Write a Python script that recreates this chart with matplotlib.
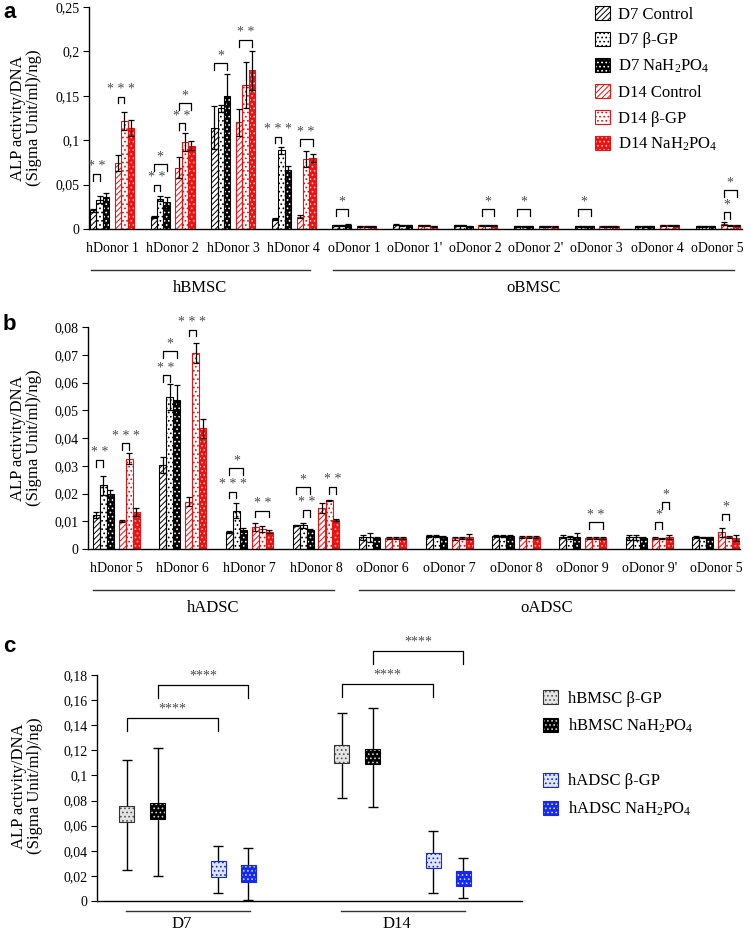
import matplotlib
matplotlib.use("Agg")
import matplotlib.pyplot as plt
import numpy as np
from matplotlib.patches import Patch
from matplotlib.legend_handler import HandlerTuple
from matplotlib.ticker import FuncFormatter

plt.rcParams["font.family"] = ["Liberation Serif", "DejaVu Serif"]
plt.rcParams["mathtext.fontset"] = "custom"
plt.rcParams["mathtext.rm"] = "Liberation Serif"
plt.rcParams["mathtext.it"] = "Liberation Serif:italic"
plt.rcParams["hatch.linewidth"] = 0.7

# ---------------- data ----------------
series_labels = ["D7 Control", "D7 β-GP", "D7 NaH$_2$PO$_4$",
                 "D14 Control", "D14 β-GP", "D14 NaH$_2$PO$_4$"]

# panel a : BMSC
a_cats = ["hDonor 1", "hDonor 2", "hDonor 3", "hDonor 4", "oDonor 1", "oDonor 1'",
          "oDonor 2", "oDonor 2'", "oDonor 3", "oDonor 4", "oDonor 5"]
a_d7_ctrl = [0.021, 0.0135, 0.114, 0.0115, 0.004, 0.005, 0.004, 0.003, 0.003, 0.003, 0.003]
a_d7_bgp = [0.033, 0.034, 0.136, 0.0886, 0.004, 0.004, 0.004, 0.003, 0.003, 0.003, 0.003]
a_d7_nah = [0.036, 0.030, 0.150, 0.067, 0.005, 0.004, 0.003, 0.003, 0.003, 0.003, 0.003]
a_d14_ctrl = [0.074, 0.069, 0.120, 0.014, 0.003, 0.004, 0.004, 0.003, 0.003, 0.004, 0.006]
a_d14_bgp = [0.122, 0.098, 0.162, 0.079, 0.003, 0.004, 0.004, 0.003, 0.003, 0.004, 0.004]
a_d14_nah = [0.114, 0.094, 0.179, 0.080, 0.003, 0.003, 0.004, 0.003, 0.003, 0.004, 0.004]
a_d7_ctrl_err = [0.002, 0.001, 0.024, 0.001, 0.0005, 0.0005, 0.0005, 0.0005, 0.0005, 0.0005, 0.0005]
a_d7_bgp_err = [0.004, 0.003, 0.004, 0.004, 0.0005, 0.0005, 0.0005, 0.0005, 0.0005, 0.0005, 0.0005]
a_d7_nah_err = [0.004, 0.006, 0.025, 0.004, 0.0005, 0.0005, 0.0005, 0.0005, 0.0005, 0.0005, 0.0005]
a_d14_ctrl_err = [0.009, 0.012, 0.015, 0.0015, 0.0005, 0.0005, 0.0005, 0.0005, 0.0005, 0.0005, 0.002]
a_d14_bgp_err = [0.010, 0.010, 0.026, 0.009, 0.0005, 0.0005, 0.0005, 0.0005, 0.0005, 0.0005, 0.0008]
a_d14_nah_err = [0.009, 0.005, 0.022, 0.004, 0.0005, 0.0005, 0.0005, 0.0005, 0.0005, 0.0005, 0.0008]
# (category, bar i, bar j, bracket height, label)
a_sig = [(0, 0, 1, 0.062, "* *"), (0, 3, 4, 0.149, "* * *"),
         (1, 0, 1, 0.050, "* *"), (1, 0, 2, 0.073, "*"), (1, 3, 4, 0.119, "* *"), (1, 3, 5, 0.142, "*"),
         (2, 0, 2, 0.187, "*"), (2, 3, 5, 0.213, "* *"),
         (3, 0, 1, 0.104, "* * *"), (3, 3, 5, 0.101, "* *"),
         (4, 0, 2, 0.0225, "*"), (6, 3, 5, 0.022, "*"), (7, 0, 2, 0.022, "*"), (8, 0, 2, 0.022, "*"),
         (10, 3, 4, 0.019, "*"), (10, 3, 5, 0.044, "*")]
a_groups = [("hBMSC", 0, 3), ("oBMSC", 4, 10)]

# panel b : ADSC
b_cats = ["hDonor 5", "hDonor 6", "hDonor 7", "hDonor 8", "oDonor 6", "oDonor 7",
          "oDonor 8", "oDonor 9", "oDonor 9'", "oDonor 5"]
b_d7_ctrl = [0.0123, 0.0303, 0.0061, 0.0085, 0.0042, 0.0047, 0.0048, 0.0045, 0.0042, 0.0043]
b_d7_bgp = [0.0229, 0.0548, 0.0138, 0.0085, 0.0042, 0.0047, 0.0048, 0.0042, 0.0042, 0.0042]
b_d7_nah = [0.0198, 0.0537, 0.0069, 0.0069, 0.0040, 0.0045, 0.0046, 0.0045, 0.0040, 0.0042]
b_d14_ctrl = [0.0101, 0.0171, 0.0079, 0.0147, 0.0040, 0.0038, 0.0044, 0.0040, 0.0040, 0.0060]
b_d14_bgp = [0.0325, 0.0707, 0.0072, 0.0175, 0.0040, 0.0040, 0.0044, 0.0040, 0.0038, 0.0043]
b_d14_nah = [0.0133, 0.0435, 0.0063, 0.0105, 0.0040, 0.0045, 0.0044, 0.0040, 0.0043, 0.0040]
b_d7_ctrl_err = [0.001, 0.003, 0.0003, 0.0003, 0.0008, 0.0003, 0.0003, 0.0005, 0.001, 0.0003]
b_d7_bgp_err = [0.0033, 0.0048, 0.0027, 0.0008, 0.0015, 0.0003, 0.0003, 0.0005, 0.0008, 0.0003]
b_d7_nah_err = [0.0015, 0.0055, 0.0008, 0.0003, 0.0003, 0.0003, 0.0003, 0.0012, 0.0003, 0.0003]
b_d14_ctrl_err = [0.0005, 0.0017, 0.0013, 0.0018, 0.0003, 0.0005, 0.0003, 0.0003, 0.0005, 0.0015]
b_d14_bgp_err = [0.002, 0.0037, 0.001, 0.0003, 0.0003, 0.0003, 0.0003, 0.0003, 0.0003, 0.0005]
b_d14_nah_err = [0.0015, 0.0035, 0.0005, 0.0003, 0.0003, 0.0008, 0.0003, 0.0003, 0.0008, 0.001]
b_sig = [(0, 0, 1, 0.0321, "* *"), (0, 3, 4, 0.0381, "* * *"),
         (1, 0, 1, 0.0626, "* *"), (1, 0, 2, 0.0714, "*"), (1, 3, 4, 0.0790, "* * *"),
         (2, 0, 1, 0.0207, "* * *"), (2, 0, 2, 0.0291, "*"), (2, 3, 5, 0.0138, "* *"),
         (3, 0, 2, 0.0223, "*"), (3, 1, 2, 0.0141, "* *"), (3, 4, 5, 0.0223, "* *"),
         (7, 3, 5, 0.0096, "* *"), (8, 3, 4, 0.0096, "*"), (8, 4, 5, 0.0168, "*"),
         (9, 3, 4, 0.0127, "*")]
b_groups = [("hADSC", 0, 3), ("oADSC", 4, 9)]

# panel c : human donors pooled (box = inner range, whiskers = min/max)
c_groups = ["D7", "D14"]
c_labels = ["hBMSC β-GP", "hBMSC NaH$_2$PO$_4$", "hADSC β-GP", "hADSC NaH$_2$PO$_4$"]
c_box_low = np.array([[0.063, 0.110], [0.065, 0.109], [0.019, 0.026], [0.015, 0.012]])
c_box_high = np.array([[0.076, 0.124], [0.078, 0.121], [0.032, 0.038], [0.029, 0.024]])
c_whisk_low = np.array([[0.025, 0.082], [0.020, 0.075], [0.006, 0.006], [0.0005, 0.0026]])
c_whisk_high = np.array([[0.112, 0.150], [0.122, 0.154], [0.044, 0.056], [0.042, 0.034]])
# (group, series i, series j, bracket height)
c_sig = [(0, 0, 2, 0.1457), (0, 1, 3, 0.172), (1, 0, 2, 0.1726), (1, 1, 3, 0.199)]

# ---------------- styles ----------------
RED = "#f01010"
BLUE = "#1428f0"
STYLES = [
    dict(face="white", hatch="//////", hc="black", ec="black"),
    dict(face="white", hatch="....", hc="black", ec="black"),
    dict(face="black", hatch="....", hc="white", ec="black"),
    dict(face="white", hatch="//////", hc=RED, ec=RED),
    dict(face="white", hatch="....", hc=RED, ec=RED),
    dict(face=RED, hatch="....", hc="#ffc0c0", ec=RED),
]
C_STYLES = [
    dict(face="#e4e4e4", hatch="....", hc="#555555", ec="#333333"),
    dict(face="black", hatch="....", hc="#d0d0d0", ec="black"),
    dict(face="#e0e6ff", hatch="....", hc=BLUE, ec=BLUE),
    dict(face=BLUE, hatch="....", hc="#c8d0ff", ec=BLUE),
]


def draw_bar(ax, x, h, w, st, bottom=0, z=2):
    ax.bar(x, h, w, bottom=bottom, color=st["face"], edgecolor=st["hc"],
           hatch=st["hatch"], linewidth=0, zorder=z)
    ax.bar(x, h, w, bottom=bottom, fill=False, edgecolor=st["ec"],
           linewidth=0.8, zorder=z + 0.1)


def handle(st):
    return (Patch(facecolor=st["face"], edgecolor=st["hc"], hatch=st["hatch"], linewidth=0),
            Patch(fill=False, edgecolor=st["ec"], linewidth=0.8))


def draw_sig(ax, x1, x2, y, leg, label, fs=10, dy=0.5):
    ax.plot([x1, x1, x2, x2], [y - leg, y, y, y - leg], color="black", lw=0.9,
            clip_on=False, zorder=5)
    ax.annotate(label, ((x1 + x2) / 2, y), xytext=(0, dy), textcoords="offset points",
                ha="center", va="bottom", fontsize=fs, color="#4a4a4a",
                annotation_clip=False)


fmt = FuncFormatter(lambda v, p: ("%g" % round(v, 4)).replace(".", ","))


def style_axis(ax, ylim, step):
    ax.set_ylim(*ylim)
    ax.set_yticks(np.arange(0, ylim[1] + step / 2, step))
    ax.yaxis.set_major_formatter(fmt)
    ax.spines[["top", "right"]].set_visible(False)
    for s in ("left", "bottom"):
        ax.spines[s].set_linewidth(1.0)
    ax.tick_params(axis="y", direction="out", length=4, width=0.8, labelsize=10, pad=3)
    ax.tick_params(axis="x", length=0, labelsize=10, pad=9)


def bar_panel(ax, cats, series, errs, offsets, width, ylim, step, sig, groups):
    x = np.arange(len(cats))
    for k, (vals, err) in enumerate(zip(series, errs)):
        xs = x + offsets[k]
        draw_bar(ax, xs, vals, width, STYLES[k])
        ax.errorbar(xs, vals, yerr=err, fmt="none", ecolor="black", elinewidth=0.9,
                    capsize=2.5, capthick=0.9, zorder=4)
    ax.set_xticks(x)
    ax.set_xticklabels(cats)
    style_axis(ax, ylim, step)
    leg = ylim[1] * 0.03
    for c, i, j, y, lab in sig:
        draw_sig(ax, c + offsets[i], c + offsets[j], y, leg, lab)
    trans = ax.get_xaxis_transform()
    for name, first, last in groups:
        x0, x1 = first - 0.35, last + 0.27
        ax.plot([x0, x1], [-0.185, -0.185], transform=trans, color="#333333", lw=1.0,
                clip_on=False)
        ax.text((x0 + x1) / 2, -0.265, name, transform=trans, ha="center", va="center",
                fontsize=12)


W, H = 750, 933
fig = plt.figure(figsize=(7.5, 9.33), dpi=100)


def px_axes(left, top, right, bottom):
    return fig.add_axes([left / W, 1 - bottom / H, (right - left) / W, (bottom - top) / H])


ylabel = "ALP activity/DNA\n(Sigma Unit/ml)/ng)"

# ---- panel a ----
ax_a = px_axes(89, 7, 742, 229)
ax_a.set_xlim(-0.38, 10.4)
bar_panel(ax_a, a_cats,
          [a_d7_ctrl, a_d7_bgp, a_d7_nah, a_d14_ctrl, a_d14_bgp, a_d14_nah],
          [a_d7_ctrl_err, a_d7_bgp_err, a_d7_nah_err, a_d14_ctrl_err, a_d14_bgp_err, a_d14_nah_err],
          [-0.31, -0.205, -0.1, 0.1, 0.205, 0.31], 0.105, (0, 0.25), 0.05, a_sig, a_groups)
ax_a.legend([handle(s) for s in STYLES], series_labels,
            handler_map={tuple: HandlerTuple(ndivide=1, pad=0)},
            loc="upper left", bbox_to_anchor=(595 / W, 1 - 6 / H), bbox_transform=fig.transFigure,
            frameon=False, fontsize=12, handlelength=0.9, handleheight=0.9,
            handletextpad=0.5, labelspacing=0.55, borderpad=0, borderaxespad=0)
fig.text(26 / W, 1 - 118 / H, ylabel, rotation=90, ha="center", va="center",
         fontsize=12, linespacing=1.05)

# ---- panel b ----
ax_b = px_axes(88, 327, 740, 549)
ax_b.set_xlim(-0.42, 9.36)
bar_panel(ax_b, b_cats,
          [b_d7_ctrl, b_d7_bgp, b_d7_nah, b_d14_ctrl, b_d14_bgp, b_d14_nah],
          [b_d7_ctrl_err, b_d7_bgp_err, b_d7_nah_err, b_d14_ctrl_err, b_d14_bgp_err, b_d14_nah_err],
          [-0.3, -0.195, -0.09, 0.09, 0.195, 0.3], 0.105, (0, 0.08), 0.01, b_sig, b_groups)
fig.text(26 / W, 1 - 438 / H, ylabel, rotation=90, ha="center", va="center",
         fontsize=12, linespacing=1.05)

# ---- panel c ----
ax_c = px_axes(97, 675, 522, 901)
ax_c.set_xlim(-0.423, 1.553)
gx = np.arange(len(c_groups))
c_off = [-0.285, -0.14, 0.14, 0.28]
for k in range(len(c_labels)):
    xs = gx + c_off[k]
    mid = (c_box_low[k] + c_box_high[k]) / 2
    ax_c.errorbar(xs, mid, yerr=[mid - c_whisk_low[k], c_whisk_high[k] - mid], fmt="none",
                  ecolor="black", elinewidth=1.0, capsize=3.5, capthick=1.0, zorder=2)
    draw_bar(ax_c, xs, c_box_high[k] - c_box_low[k], 0.07, C_STYLES[k],
             bottom=c_box_low[k], z=3)
ax_c.set_xticks([])
style_axis(ax_c, (0, 0.18), 0.02)
for g, i, j, y in c_sig:
    draw_sig(ax_c, g + c_off[i], g + c_off[j], y, 0.01, "****", fs=10, dy=2)
trans = ax_c.get_xaxis_transform()
for g, name in zip(gx, c_groups):
    ax_c.plot([g - 0.29, g + 0.29], [-0.044, -0.044], transform=trans, color="#333333",
              lw=1.0, clip_on=False)
    ax_c.text(g - 0.03, -0.1, name, transform=trans, ha="center", va="center", fontsize=12)
c_handles = [handle(C_STYLES[0]), handle(C_STYLES[1]),
             Patch(facecolor="none", edgecolor="none"),
             handle(C_STYLES[2]), handle(C_STYLES[3])]
ax_c.legend(c_handles, [c_labels[0], c_labels[1], "", c_labels[2], c_labels[3]],
            handler_map={tuple: HandlerTuple(ndivide=1, pad=0)},
            loc="upper left", bbox_to_anchor=(543 / W, 1 - 690 / H), bbox_transform=fig.transFigure,
            frameon=False, fontsize=12, handlelength=0.9, handleheight=0.9,
            handletextpad=0.6, labelspacing=0.62, borderpad=0, borderaxespad=0)
fig.text(27 / W, 1 - 786 / H, ylabel, rotation=90, ha="center", va="center",
         fontsize=12, linespacing=1.05)

# panel letters
for lab, top in (("a", 2), ("b", 314), ("c", 636)):
    fig.text(3 / W, 1 - top / H, lab, fontsize=16, fontweight="bold",
             family="Liberation Sans", ha="left", va="top")

fig.savefig("out.png", dpi=100)
